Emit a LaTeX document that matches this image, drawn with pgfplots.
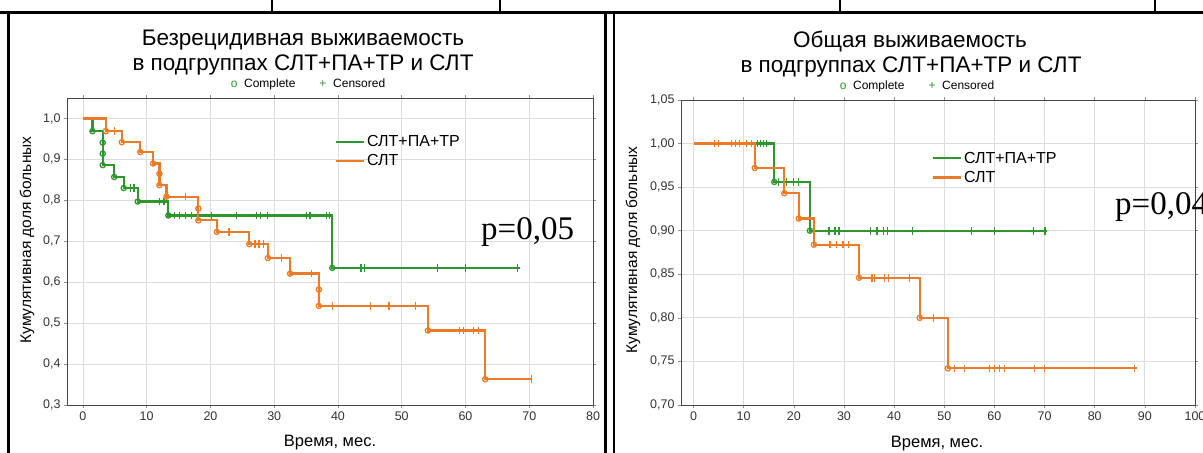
\documentclass[border=0pt]{standalone}
\usepackage{pgfplots}
\pgfplotsset{compat=1.18}
\usepackage{fontspec}
\setmainfont{Liberation Sans}
\newfontfamily\pfont{Liberation Serif}
\definecolor{kmgreen}{RGB}{45,150,45}
\definecolor{kmorange}{RGB}{236,122,38}
\definecolor{gridc}{RGB}{220,220,220}
\definecolor{axc}{RGB}{70,70,70}
\pgfplotsset{
 kmbase/.style={
  scale only axis, anchor=south west,
  axis line style={axc, line width=0.9bp},
  grid=major, major grid style={gridc, line width=0.8bp},
  tick align=outside, major tick length=3bp, tick style={axc!60, line width=0.6bp},
  xticklabel style={font=\fontsize{12.5bp}{14bp}\selectfont, text=black!80},
  yticklabel style={font=\fontsize{12.5bp}{14bp}\selectfont, text=black!80},
  /pgf/number format/assume math mode=true,
  /pgf/number format/use comma,
  legend style={draw=none, fill=none, font=\fontsize{16bp}{19bp}\selectfont, anchor=north west, row sep=2.5bp, inner sep=0pt, outer sep=0pt, cells={anchor=west}},
  legend image code/.code={\draw[#1, line width=2.2bp] (0bp,0bp) -- (28bp,0bp);},
 },
 kmline/.style={line width=2.2bp, const plot, no marks},
 kmdone/.style={only marks, mark=o, mark size=2.6bp, mark options={line width=1.3bp}, forget plot},
 kmcens/.style={only marks, mark=|, mark size=3.8bp, mark options={line width=1.2bp}, forget plot},
}
\begin{document}
\begin{tikzpicture}[x=1bp,y=1bp]
\path[use as bounding box] (0,0) rectangle (1203,453);
\begin{scope}
\clip (0,0) rectangle (1203,453);
\fill[white] (0,0) rectangle (1203,453);
% ---------- left panel ----------
\begin{axis}[kmbase, at={(67bp,48bp)}, width=526bp, height=307bp,
  xmin=-2.5, xmax=80, ymin=0.3, ymax=1.05,
  xtick={0,10,...,80}, ytick={0.3,0.4,0.5,0.6,0.7,0.8,0.9,1.0},
  yticklabel style={/pgf/number format/.cd, fixed, fixed zerofill, precision=1},
  legend style={at={(rel axis cs:0.5095,0.885)}}]
\addplot[kmgreen, kmline] coordinates {(0,1.0) (1.5,0.969) (3.1,0.941) (3.1,0.914) (3.1,0.886) (4.9,0.857) (6.4,0.830) (8.6,0.797) (13.4,0.763) (39.1,0.635) (68.5,0.635)};
\addlegendentry{СЛТ+ПА+ТР}
\addplot[kmgreen, kmdone] coordinates {(1.5,0.969) (3.1,0.941) (3.1,0.914) (3.1,0.886) (4.9,0.857) (6.4,0.830) (8.6,0.797) (13.4,0.763) (39.1,0.635)};
\addplot[kmgreen, kmcens] coordinates {(7.5,0.830) (8.0,0.830) (12.0,0.797) (12.7,0.797)
 (14.4,0.763) (15.2,0.763) (16.1,0.763) (17.0,0.763) (20.2,0.763) (24.1,0.763) (27.2,0.763) (27.9,0.763) (29.0,0.763) (35.1,0.763) (35.6,0.763) (38.2,0.763) (38.7,0.763)
 (43.6,0.635) (44.1,0.635) (55.6,0.635) (60.0,0.635) (68.2,0.635)};
\addplot[kmorange, kmline] coordinates {(0,1.0) (3.6,0.969) (6.1,0.942) (9.0,0.918) (11.0,0.890) (12.0,0.865) (12.0,0.837) (13.1,0.809) (18.1,0.780) (18.1,0.751) (21.0,0.723) (26.1,0.693) (29.0,0.659) (32.5,0.621) (37.0,0.582) (37.0,0.542) (54.1,0.482) (63.1,0.363) (70.4,0.363)};
\addlegendentry{СЛТ}
\addplot[kmorange, kmdone] coordinates {(3.6,0.969) (6.1,0.942) (9.0,0.918) (11.0,0.890) (12.0,0.865) (12.0,0.837) (13.1,0.809) (18.1,0.780) (18.1,0.751) (21.0,0.723) (26.1,0.693) (29.0,0.659) (32.5,0.621) (37.0,0.582) (37.0,0.542) (54.1,0.482) (63.1,0.363)};
\addplot[kmorange, kmcens] coordinates {(5.0,0.969) (16.1,0.809) (22.9,0.723) (27.0,0.693) (27.6,0.693) (28.3,0.693) (31.1,0.659) (35.9,0.621)
 (39.1,0.542) (45.1,0.542) (48.0,0.542) (52.1,0.542) (59.0,0.482) (59.7,0.482) (61.2,0.482) (62.0,0.482) (70.4,0.363)};
\end{axis}
% ---------- right panel ----------
\begin{axis}[kmbase, at={(681bp,48bp)}, width=514bp, height=305bp,
  xmin=-2.5, xmax=100, ymin=0.70, ymax=1.05,
  xtick={0,10,...,100}, ytick={0.70,0.75,0.80,0.85,0.90,0.95,1.00,1.05},
  yticklabel style={/pgf/number format/.cd, fixed, fixed zerofill, precision=2},
  legend style={at={(rel axis cs:0.488,0.836)}}]
\addplot[kmgreen, kmline] coordinates {(0,1.0) (16.1,0.956) (23.2,0.900) (70.4,0.900)};
\addlegendentry{СЛТ+ПА+ТР}
\addplot[kmgreen, kmdone] coordinates {(16.1,0.956) (23.2,0.900)};
\addplot[kmgreen, kmcens] coordinates {(12.7,1.0) (13.3,1.0) (14.0,1.0) (14.5,1.0)
 (17.0,0.956) (18.5,0.956) (19.9,0.956) (20.9,0.956)
 (27.0,0.900) (28.2,0.900) (29.0,0.900) (35.3,0.900) (36.6,0.900) (37.9,0.900) (38.6,0.900) (43.6,0.900) (55.5,0.900) (60.0,0.900) (67.8,0.900) (70.1,0.900)};
\addplot[kmorange, kmline] coordinates {(0,1.0) (12.2,0.972) (18.1,0.943) (21.0,0.914) (24.0,0.884) (33.0,0.846) (45.1,0.800) (50.7,0.742) (88.4,0.742)};
\addlegendentry{СЛТ}
\addplot[kmorange, kmdone] coordinates {(12.2,0.972) (18.1,0.943) (21.0,0.914) (24.0,0.884) (33.0,0.846) (45.1,0.800) (50.7,0.742)};
\addplot[kmorange, kmcens] coordinates {(4.1,1.0) (4.9,1.0) (7.6,1.0) (8.4,1.0) (9.2,1.0) (10.6,1.0) (11.6,1.0)
 (27.2,0.884) (28.5,0.884) (29.8,0.884) (30.9,0.884)
 (35.6,0.846) (36.1,0.846) (38.1,0.846) (38.9,0.846) (43.1,0.846) (47.9,0.800)
 (52.0,0.742) (54.0,0.742) (59.0,0.742) (60.0,0.742) (61.0,0.742) (62.0,0.742) (68.0,0.742) (70.0,0.742) (88.0,0.742)};
\end{axis}
% ---------- texts ----------
\node[anchor=base, font=\fontsize{22.5bp}{25bp}\selectfont] at (303,407) {Безрецидивная выживаемость};
\node[anchor=base, font=\fontsize{22.5bp}{25bp}\selectfont] at (303,382) {в подгруппах СЛТ+ПА+ТР и СЛТ};
\node[anchor=base, font=\fontsize{12bp}{14bp}\selectfont] at (308,365) {\textcolor{kmgreen}{o}\ \ Complete\qquad\textcolor{kmgreen}{+}\ \ Censored};
\node[anchor=base, font=\fontsize{22.5bp}{25bp}\selectfont] at (910,405) {Общая выживаемость};
\node[anchor=base, font=\fontsize{22.5bp}{25bp}\selectfont] at (911,380) {в подгруппах СЛТ+ПА+ТР и СЛТ};
\node[anchor=base, font=\fontsize{12bp}{14bp}\selectfont] at (917,363) {\textcolor{kmgreen}{o}\ \ Complete\qquad\textcolor{kmgreen}{+}\ \ Censored};
\node[anchor=base, font=\fontsize{16.5bp}{19bp}\selectfont] at (330,6) {Время, мес.};
\node[anchor=base, font=\fontsize{16.5bp}{19bp}\selectfont] at (937,5) {Время, мес.};
\node[rotate=90, font=\fontsize{15.5bp}{18bp}\selectfont] at (27,213) {Кумулятивная доля больных};
\node[rotate=90, font=\fontsize{15.5bp}{18bp}\selectfont] at (633,203) {Кумулятивная доля больных};
\node[anchor=base west, inner sep=0pt, font=\pfont\fontsize{33bp}{36bp}\selectfont] at (481,213) {p=0,05};
\node[anchor=base west, inner sep=0pt, font=\pfont\fontsize{33bp}{36bp}\selectfont] at (1115,238) {p=0,04};
% ---------- frames ----------
\draw[line width=3bp] (0,440) -- (1203,440);
\draw[line width=3bp] (8,440) -- (8,0);
\draw[line width=3bp] (605,440) -- (605,0);
\draw[line width=2bp] (614,439) -- (614,0);
\draw[line width=1.5bp] (272,453) -- (272,440);
\draw[line width=1.5bp] (500,453) -- (500,440);
\draw[line width=1.5bp] (840,453) -- (840,440);
\draw[line width=1.5bp] (1155,453) -- (1155,440);
\end{scope}
\end{tikzpicture}
\end{document}
